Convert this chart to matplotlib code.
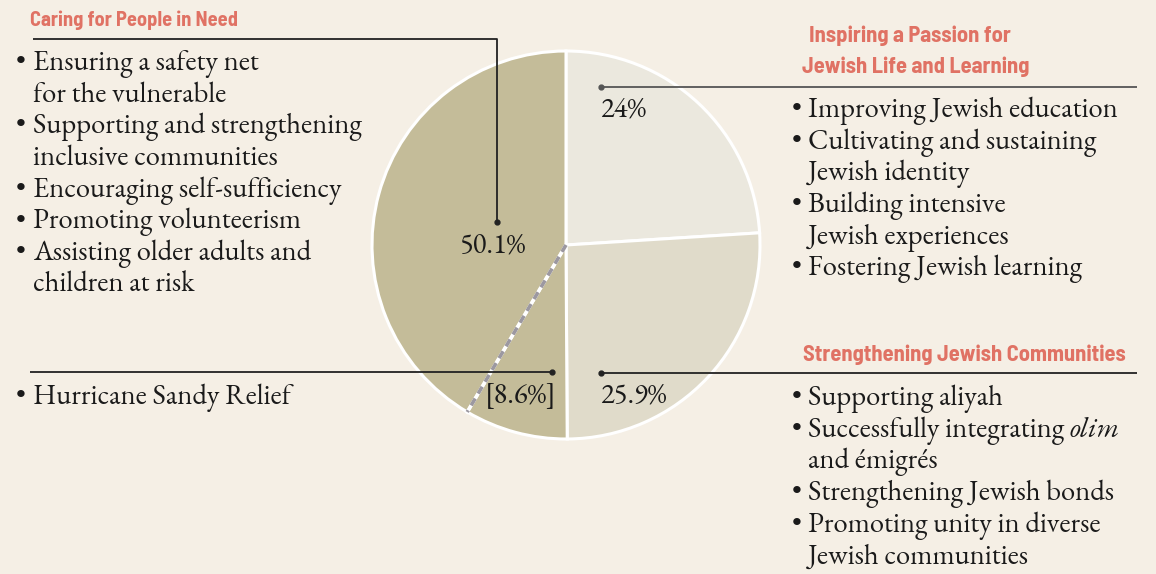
import matplotlib
matplotlib.use("Agg")
import matplotlib.pyplot as plt
import numpy as np

# ---- data ----
categories = ["Inspiring a Passion for Jewish Life and Learning",
              "Strengthening Jewish Communities",
              "Hurricane Sandy Relief",
              "Caring for People in Need (other)"]
shares = [24.0, 25.9, 8.6, 41.5]          # 8.6 + 41.5 = 50.1
share_labels = ["24%", "25.9%", "[8.6%]", "50.1%"]
left_header = "Caring for People in Need"
left_bullets = [["Ensuring a safety net", "for the vulnerable"],
                ["Supporting and strengthening", "inclusive communities"],
                ["Encouraging self-sufficiency"],
                ["Promoting volunteerism"],
                ["Assisting older adults and", "children at risk"]]
sandy_bullets = [["Hurricane Sandy Relief"]]
right1_header = ["Inspiring a Passion for", "Jewish Life and Learning"]
right1_bullets = [["Improving Jewish education"],
                  ["Cultivating and sustaining", "Jewish identity"],
                  ["Building intensive", "Jewish experiences"],
                  ["Fostering Jewish learning"]]
right2_header = "Strengthening Jewish Communities"
right2_bullets = [["Supporting aliyah"],
                  [("Successfully integrating ", "olim"), "and émigrés"],
                  ["Strengthening Jewish bonds"],
                  ["Promoting unity in diverse", "Jewish communities"]]

BG = "#f5efe5"
C_LIGHT = "#ebe8de"
C_MID = "#e0dbca"
C_DARK = "#c4bc99"
HEAD = "#e07264"
INK = "#1a1a1a"
SERIF = ["EB Garamond", "Cormorant Garamond", "Liberation Serif", "DejaVu Serif"]
HEADF = ["Barlow Semi Condensed", "Liberation Sans", "DejaVu Sans"]

W, H = 1156, 574
fig = plt.figure(figsize=(W / 100, H / 100), dpi=100, facecolor=BG)
ax = fig.add_axes([0, 0, 1, 1])
ax.set_xlim(0, W)
ax.set_ylim(0, H)
ax.set_aspect("equal")
ax.axis("off")

def Y(y):
    return H - y

cx, cy, r = 566, Y(245), 194
wedges, _ = ax.pie(shares, colors=[C_LIGHT, C_MID, C_DARK, C_DARK],
                   startangle=90, counterclock=False, center=(cx, cy), radius=r,
                   wedgeprops=dict(edgecolor="white", linewidth=2.2))
ax.set_xlim(0, W)
ax.set_ylim(0, H)
# dashed separator between Sandy relief and rest of "caring"
ang = np.deg2rad(wedges[2].theta1)
x2, y2 = cx + r * np.cos(ang), cy + r * np.sin(ang)
ax.plot([cx, x2], [cy, y2], color="white", lw=2.6, zorder=5)
ax.plot([cx, x2], [cy, y2], color="#9c98a0", lw=2.6, ls=(0, (2.2, 1.6)), zorder=6)

FS = 20.6
LH = 31.7

def stext(x, y, s, ha="left", style="normal"):
    return ax.text(x, Y(y), s, fontsize=FS, family=SERIF, color=INK, va="baseline",
                   ha=ha, style=style)

def bullets(x_b, x_t, y0, items):
    y = y0
    for item in items:
        stext(x_b, y, "•")
        for line in item:
            if isinstance(line, tuple):
                t = stext(x_t, y, line[0])
                ax.annotate(line[1], xy=(1, 0), xycoords=t, va="bottom", ha="left",
                            fontsize=FS, family=SERIF, color=INK, style="italic")
            else:
                stext(x_t, y, line)
            y += LH
    return y

def header(x, y, s, ha="left", size=15):
    ax.text(x, Y(y), s, fontsize=size, family=HEADF, weight="bold", color=HEAD,
            va="baseline", ha=ha)

def leader(xs, ys, color="#222222"):
    ax.plot(xs, [Y(v) for v in ys], color=color, lw=1.3, solid_capstyle="butt", zorder=7)
    ax.plot([xs[-1]], [Y(ys[-1])], "o", color=color, ms=3.5, zorder=7)

# left block
header(30, 26, left_header, size=14.7)
leader([33, 497, 497], [39, 39, 222])
bullets(16, 33, 70, left_bullets)
stext(493, 252, share_labels[3], ha="center")

# sandy
leader([30, 552], [372, 372])
bullets(16, 33, 404, sandy_bullets)
stext(557, 403, share_labels[2], ha="right")

# right top
header(910, 42, right1_header[0], ha="center", size=16.2)
header(916, 73, right1_header[1], ha="center", size=16.2)
leader([1137, 601], [87, 87], color="#555555")
stext(600, 117, share_labels[0])
bullets(792, 808, 117, right1_bullets)

# right bottom
header(964, 361, right2_header, ha="center", size=16.2)
leader([1137, 601], [373, 373])
stext(600, 403, share_labels[1])
bullets(792, 808, 405, right2_bullets)

fig.savefig("out.png", dpi=100, facecolor=BG)
